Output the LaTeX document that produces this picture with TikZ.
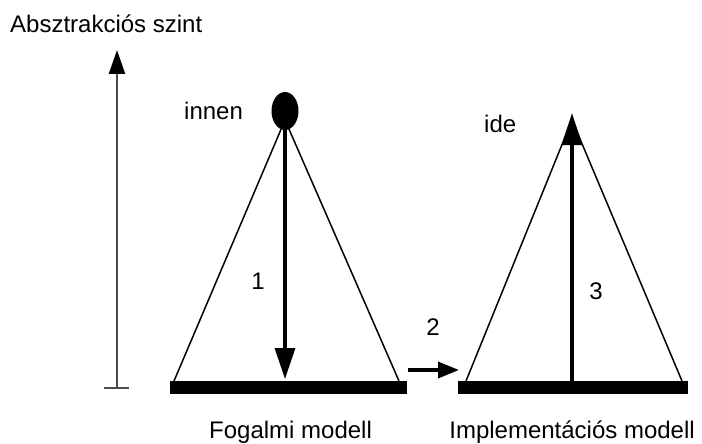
\documentclass[tikz,border=0pt]{standalone}
\usepackage{fontspec}
\setmainfont{Liberation Sans}
\usetikzlibrary{arrows.meta,shapes.geometric}
\begin{document}
\begin{tikzpicture}[x=1pt,y=-1pt,
  lbl/.style={inner sep=0pt,font=\fontsize{24}{29}\selectfont},
  side/.style={line width=1.5pt},
  bar/.style={fill=black,draw=none},
  bigarrow/.style={line width=3.4pt,-{Triangle[length=31pt,width=20pt]}},
]
\useasboundingbox (0,0) rectangle (702,444);
% axis
\coordinate (axb) at (117,388);
\coordinate (axt) at (117,50);
\draw[line width=2.2pt,black!70,-{Triangle[length=24pt,width=16pt,color=black]}] (axb) -- (axt);
\draw[line width=2.2pt,black!70] (104,388) -- (129,388);
\node[lbl,anchor=base west] (title) at (10,33) {Absztrakciós szint};

% left triangle
\node[ellipse,fill=black,minimum width=27pt,minimum height=38pt,inner sep=0pt] (src) at (285,111) {};
\coordinate (lapex) at (285,120);
\coordinate (ll) at (174,381);
\coordinate (lr) at (399,381);
\draw[side] (ll) -- (lapex) -- (lr);
\fill[bar] (170,381) rectangle (407,394);
\coordinate (lbot) at (285,379);
\draw[bigarrow] (src.south) -- (lbot);
\node[lbl,anchor=base west] (innen) at (184,120) {innen};
\node[lbl,anchor=base] (n1) at (258,289) {1};
\node[lbl,anchor=base west] (fog) at (209,438) {Fogalmi modell};

% arrow 2
\coordinate (a2s) at (408,370);
\coordinate (a2e) at (459,370);
\draw[line width=3.4pt,-{Triangle[length=21pt,width=16pt]}] (a2s) -- (a2e);
\node[lbl,anchor=base] (n2) at (433,335) {2};

% right triangle
\coordinate (rapex) at (572,120);
\coordinate (rl) at (466,381);
\coordinate (rr) at (682,381);
\draw[side] (rl) -- (rapex) -- (rr);
\fill[bar] (458,381) rectangle (688,394);
\coordinate (rbot) at (572,382);
\coordinate (rtop) at (572,113);
\draw[line width=3.4pt,-{Triangle[length=32pt,width=20pt]}] (rbot) -- (rtop);
\node[lbl,anchor=base west] (ide) at (484,132) {ide};
\node[lbl,anchor=base] (n3) at (596,299) {3};
\node[lbl,anchor=base east] (impl) at (695,438) {Implementációs modell};
\end{tikzpicture}
\end{document}
